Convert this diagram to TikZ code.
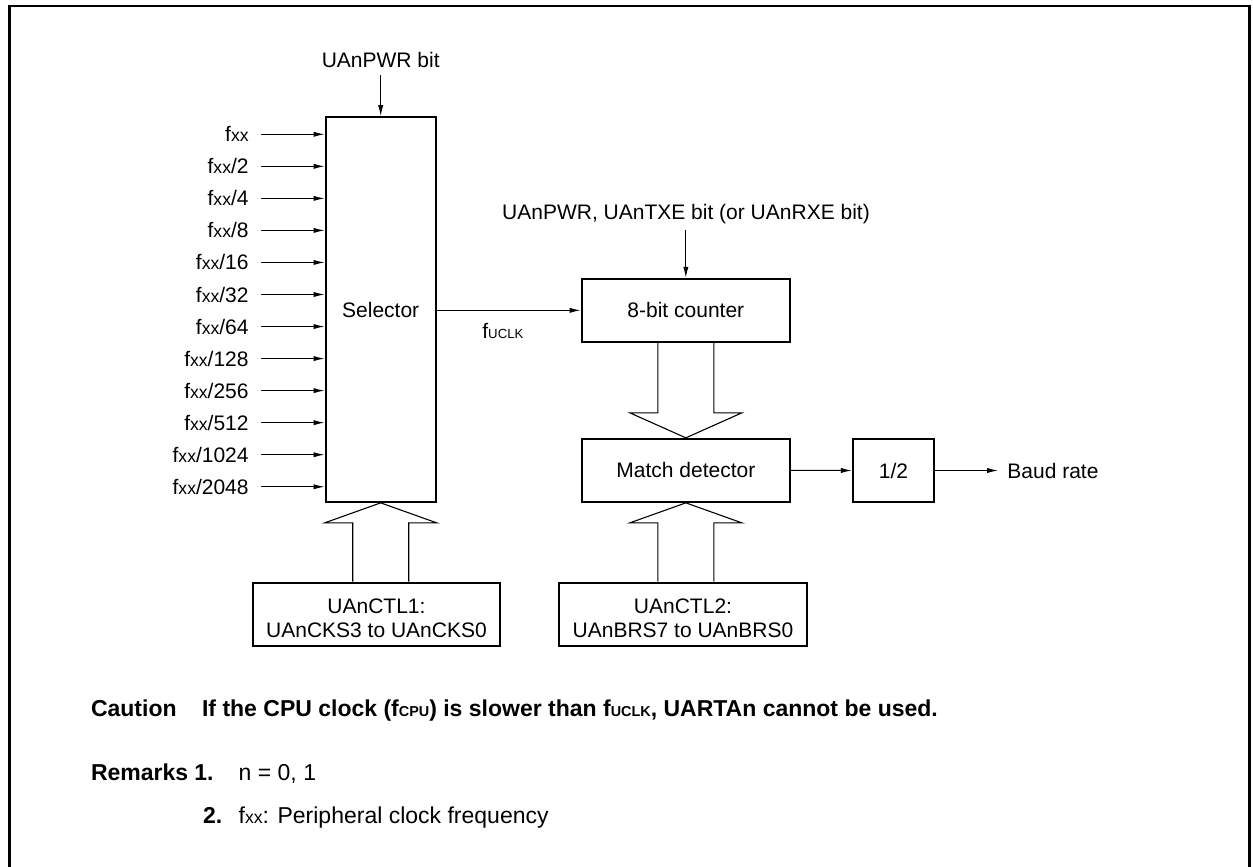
\documentclass[tikz,border=0pt]{standalone}
\usepackage{fontspec}
\setmainfont{Liberation Sans}
\usetikzlibrary{arrows.meta,calc}
\newcommand\xs[1]{{\fontsize{8.8}{9}\selectfont #1}}
\newcommand\smsub[2][6.6]{{\fontsize{#1}{#1}\selectfont #2}}
\begin{document}
\begin{tikzpicture}[x=0.5pt,y=-0.5pt,
  font=\fontsize{10.5}{11.85}\selectfont,
  box/.style={draw, line width=1.15pt, inner sep=0pt, align=center},
  arr/.style={-{Latex[length=5.5pt,width=2.6pt]}, line width=0.5pt},
  wide/.style={line width=0.55pt, line join=miter},
  inlab/.style={anchor=base east, inner sep=0pt},
  txt/.style={inner sep=0pt},
  note/.style={anchor=base west, inner sep=0pt, font=\fontsize{11.5}{13}\selectfont},
  bnote/.style={anchor=base west, inner sep=0pt, font=\bfseries\fontsize{11.5}{13}\selectfont}]
\useasboundingbox (0,0) rectangle (1253,867);
% frame
\draw[line width=1.35pt, line join=miter] (9.5,870) -- (9.5,6) -- (1249.5,6) -- (1249.5,870);

% selector
\node[box, minimum width=55pt, minimum height=192.2pt] (sel) at (380.7,309.5) {Selector};
\foreach \lab [count=\i from 0] in {{f\xs{xx}},{f\xs{xx}/2},{f\xs{xx}/4},{f\xs{xx}/8},{f\xs{xx}/16},{f\xs{xx}/32},{f\xs{xx}/64},{f\xs{xx}/128},{f\xs{xx}/256},{f\xs{xx}/512},{f\xs{xx}/1024},{f\xs{xx}/2048}} {
  \pgfmathsetmacro\yy{134.3+32.04*\i}
  \node[inlab] (in\i) at (249,\yy+7.5) {\lab};
  \coordinate (s\i) at (261,\yy);
  \draw[arr] (s\i) -- (s\i -| sel.west);
}
\node[txt, anchor=base] (pwr) at (380.7,67.5) {UAnPWR bit};
\draw[arr] ([yshift=-3.75pt]pwr.base) -- (sel.north);

% counter / match / half
\node[box, minimum width=104.15pt, minimum height=31.35pt] (cnt) at (685.85,310.35) {8-bit counter};
\node[box, minimum width=104.15pt, minimum height=31.35pt] (mat) at (685.85,470.35) {Match detector};
\node[box, minimum width=40.5pt, minimum height=31.5pt] (half) at (893.5,470.5) {1/2};
\node[txt, anchor=west] (baud) at (1007,470.5) {Baud rate};

\node[txt, anchor=base] (txe) at (686,219.2) {UAnPWR, UAnTXE bit (or UAnRXE bit)};
\coordinate (t0) at ([yshift=-5.4pt]txe.base);
\draw[arr] (t0 -| cnt.north) -- (cnt.north);

\draw[arr] (sel.east |- cnt.west) -- (cnt.west);
\node[txt, anchor=base west] (fu) at (482,338) {f\smsub{UCLK}};
\draw[arr] (mat.east) -- (half.west);
\draw[arr] (half.east) -- ([xshift=-4.5pt]baud.west);

% control registers
\node[box, minimum width=123.5pt, minimum height=31.5pt,
  label={[align=center, yshift=-2pt]center:{UAnCTL1:\\UAnCKS3 to UAnCKS0}}] (ctl1) at (376.5,614.2) {};
\node[box, minimum width=124pt, minimum height=31.5pt,
  label={[align=center, yshift=-2pt]center:{UAnCTL2:\\UAnBRS7 to UAnBRS0}}] (ctl2) at (683,614.2) {};

% wide arrows
\path (sel.south) ++(-28,20) coordinate (a1) ++(56,0) coordinate (a2);
\draw[wide] (a1 |- ctl1.north) -- (a1) -- ++(-28,0) -- (sel.south) -- ($(a2)+(28,0)$) -- (a2) -- (a2 |- ctl1.north);
\path (mat.north) ++(-28,-25) coordinate (b1) ++(56,0) coordinate (b2);
\draw[wide] (b1 |- cnt.south) -- (b1) -- ++(-28,0) -- (mat.north) -- ($(b2)+(28,0)$) -- (b2) -- (b2 |- cnt.south);
\path (mat.south) ++(-28,20) coordinate (c1) ++(56,0) coordinate (c2);
\draw[wide] (c1 |- ctl2.north) -- (c1) -- ++(-28,0) -- (mat.south) -- ($(c2)+(28,0)$) -- (c2) -- (c2 |- ctl2.north);

% notes
\node[bnote] (caut) at (90.6,716.5) {Caution};
\node[bnote] (cautt) at (201.7,716.5) {If the CPU clock (f\smsub[7.2]{CPU}) is slower than f\smsub[7.2]{UCLK}, UARTAn cannot be used.};
\node[bnote] (rem) at (90.6,780) {Remarks};
\node[bnote] (r1) at (194,780) {1.};
\node[note] (r1t) at (238.3,780) {n = 0, 1};
\node[bnote] (r2) at (202.7,823) {2.};
\node[note] (r2t) at (238.3,823) {f\xs{xx}: Peripheral clock frequency};
\end{tikzpicture}
\end{document}
